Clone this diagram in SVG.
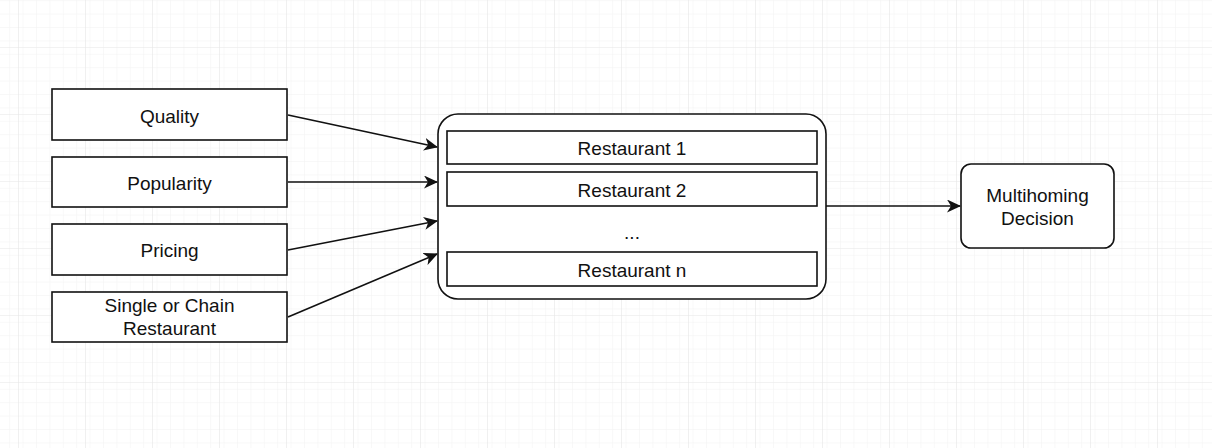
<svg xmlns="http://www.w3.org/2000/svg" width="1212" height="448" viewBox="0 0 1212 448">
<style>
.box{fill:#ffffff;stroke:#111111;stroke-width:1.6}
.lbl{font-family:"Liberation Sans",Arial,sans-serif;font-size:19px;fill:#111111;text-anchor:middle}
.edge{fill:none;stroke:#111111;stroke-width:1.6}
</style>
<defs>
<pattern id="minor" x="18" y="47" width="13.4" height="13.4" patternUnits="userSpaceOnUse">
<path d="M0 0H13.4M0 0V13.4" fill="none" stroke="#f2f2f2" stroke-width="1"/>
</pattern>
<pattern id="major" x="18" y="47" width="67" height="67" patternUnits="userSpaceOnUse">
<rect width="67" height="67" fill="url(#minor)"/>
<path d="M0 0H67M0 0V67" fill="none" stroke="#e6e6e6" stroke-width="1.2"/>
</pattern>
<marker id="arr" viewBox="0 0 14 13" refX="13" refY="6.5" markerWidth="14" markerHeight="13" markerUnits="userSpaceOnUse" orient="auto">
<path d="M0 0L14 6.5L0 13L4 6.5Z" fill="#111111"/>
</marker>
</defs>
<rect width="1212" height="448" fill="#ffffff"/>
<rect width="1212" height="448" fill="url(#major)"/>
<g id="connectors">
<line class="edge" x1="288" y1="115" x2="437" y2="147" marker-end="url(#arr)"/>
<line class="edge" x1="288" y1="182" x2="437" y2="182" marker-end="url(#arr)"/>
<line class="edge" x1="288" y1="250" x2="437" y2="221" marker-end="url(#arr)"/>
<line class="edge" x1="288" y1="317" x2="437" y2="254" marker-end="url(#arr)"/>
<line class="edge" x1="826" y1="206" x2="960" y2="206" marker-end="url(#arr)"/>
</g>
<g id="quality">
<rect class="box" x="52" y="89" width="235" height="51"/>
<text class="lbl" x="169.5" y="123">Quality</text>
</g>
<g id="popularity">
<rect class="box" x="52" y="157" width="235" height="50"/>
<text class="lbl" x="169.5" y="190">Popularity</text>
</g>
<g id="pricing">
<rect class="box" x="52" y="224" width="235" height="51"/>
<text class="lbl" x="169.5" y="257">Pricing</text>
</g>
<g id="single-chain">
<rect class="box" x="52" y="292" width="235" height="50"/>
<text class="lbl" x="169.5" y="312">Single or Chain</text>
<text class="lbl" x="169.5" y="335">Restaurant</text>
</g>
<g id="restaurants">
<rect class="box" x="438" y="114" width="388" height="185" rx="20" ry="20"/>
</g>
<g id="restaurant-1">
<rect class="box" x="447" y="131" width="370" height="33"/>
<text class="lbl" x="632" y="155">Restaurant 1</text>
</g>
<g id="restaurant-2">
<rect class="box" x="447" y="172" width="370" height="34"/>
<text class="lbl" x="632" y="197">Restaurant 2</text>
</g>
<g id="ellipsis">
<text class="lbl" x="632" y="239">...</text>
</g>
<g id="restaurant-n">
<rect class="box" x="447" y="252" width="370" height="34"/>
<text class="lbl" x="632" y="277">Restaurant n</text>
</g>
<g id="multihoming">
<rect class="box" x="961" y="164" width="153" height="84" rx="10" ry="10"/>
<text class="lbl" x="1037.5" y="202">Multihoming</text>
<text class="lbl" x="1037.5" y="225">Decision</text>
</g>
</svg>
